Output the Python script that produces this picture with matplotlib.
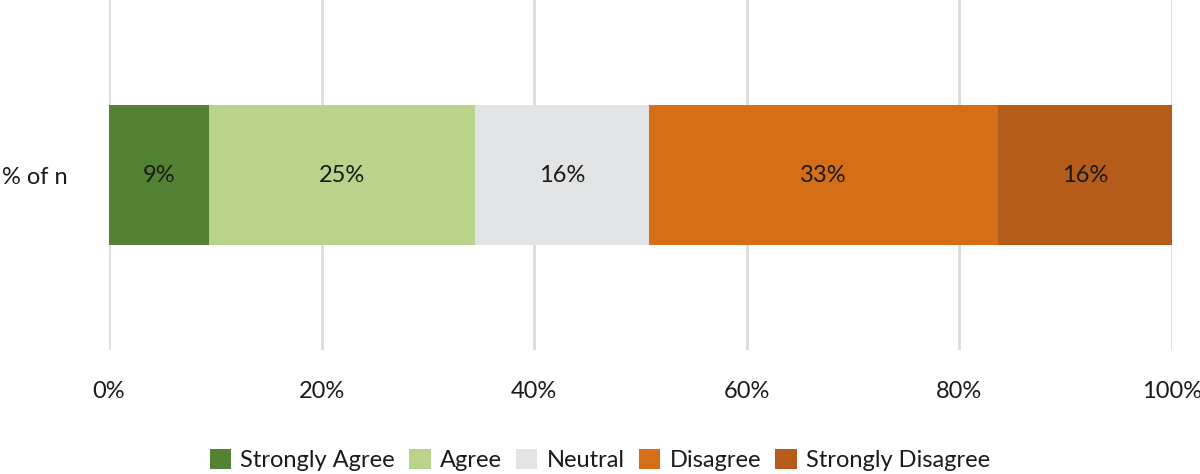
import matplotlib
matplotlib.use("Agg")
import matplotlib.pyplot as plt
from matplotlib.ticker import FuncFormatter

categories = ["% of n"]
series_names = ["Strongly Agree", "Agree", "Neutral", "Disagree", "Strongly Disagree"]
values = [9.4, 25.0, 16.4, 32.8, 16.4]
labels = ["9%", "25%", "16%", "33%", "16%"]
colors = ["#548235", "#B9D38B", "#E2E3E5", "#D46E17", "#B65C1A"]
xticks = [0, 20, 40, 60, 80, 100]

plt.rcParams['font.family'] = ['Lato', 'DejaVu Sans']
FS = 17

fig = plt.figure(figsize=(12, 4.74), dpi=100)
ax = fig.add_axes([109/1200, 1 - 350/474, (1172-109)/1200, 350/474])

left = 0
handles = []
for name, v, lab, c in zip(series_names, values, labels, colors):
    b = ax.barh(categories, [v], left=[left], height=0.4, color=c, label=name, zorder=3)
    ax.text(left + v/2, 0, lab, ha="center", va="center", fontsize=FS, color="#1a1a1a", zorder=4)
    left += v
    handles.append(b)

ax.set_xlim(0, 100)
ax.set_ylim(-0.5, 0.5)
ax.set_xticks(xticks)
ax.xaxis.set_major_formatter(FuncFormatter(lambda x, p: f"{int(x)}%"))
ax.grid(axis="x", color="#DCDCDC", linewidth=2, zorder=0)
for s in ax.spines.values():
    s.set_visible(False)
ax.tick_params(axis="x", length=0, pad=22, labelsize=FS, labelcolor="#1a1a1a")
ax.tick_params(axis="y", length=0, pad=30, labelsize=FS, labelcolor="#1a1a1a")

fig.legend(handles=handles, labels=series_names, loc="center", bbox_to_anchor=(0.5, 1 - 460/474),
           ncol=5, frameon=False, fontsize=FS, handlelength=0.9, handleheight=0.9,
           handletextpad=0.4, columnspacing=0.6, labelcolor="#1a1a1a")

fig.savefig("out.png", dpi=100)
